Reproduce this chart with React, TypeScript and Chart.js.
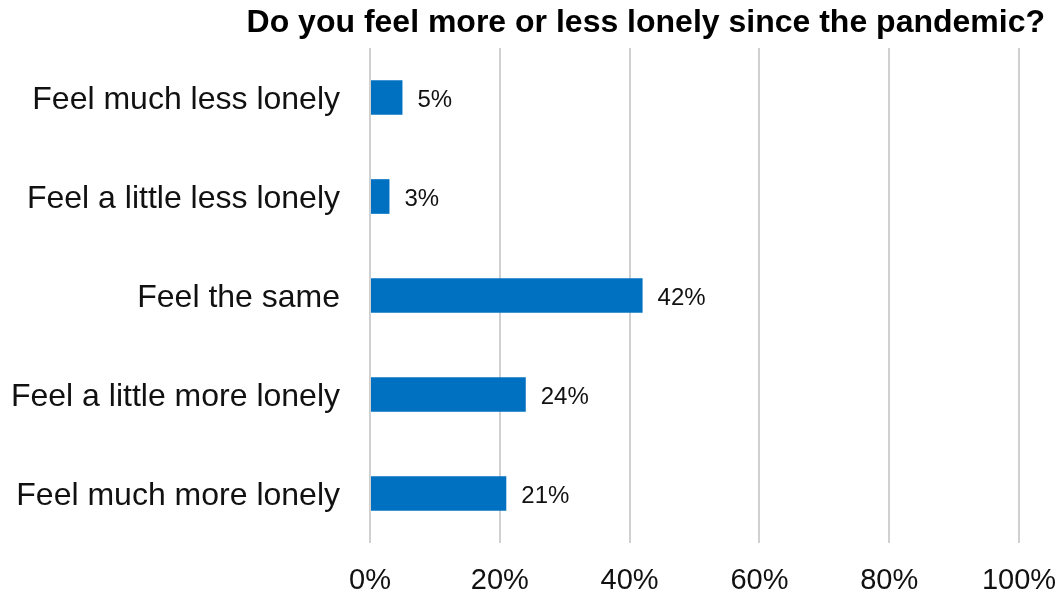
import React, { useEffect, useRef } from "react";
import { Chart, registerables } from "chart.js";

Chart.register(...registerables);

const titleText = "Do you feel more or less lonely since the pandemic?";
const categories = [
  "Feel much less lonely",
  "Feel a little less lonely",
  "Feel the same",
  "Feel a little more lonely",
  "Feel much more lonely",
];
const values = [5, 3, 42, 24, 21];
const xTicks = [0, 20, 40, 60, 80, 100];

const FONT = "'Liberation Sans', Arial, sans-serif";

export default function App() {
  const ref = useRef<HTMLCanvasElement | null>(null);
  useEffect(() => {
    if (!ref.current) return;
    const labelPlugin = {
      id: "barLabels",
      afterDatasetsDraw(chart: any) {
        const ctx = chart.ctx;
        const meta = chart.getDatasetMeta(0);
        ctx.save();
        ctx.font = `24px ${FONT}`;
        ctx.fillStyle = "#111";
        ctx.textAlign = "left";
        ctx.textBaseline = "middle";
        meta.data.forEach((bar: any, i: number) => {
          ctx.fillText(values[i] + "%", bar.x + 15, bar.y + 3);
        });
        ctx.restore();
      },
      afterDraw(chart: any) {
        const ctx = chart.ctx;
        ctx.save();
        ctx.font = `bold 32px ${FONT}`;
        ctx.fillStyle = "#000";
        ctx.textAlign = "right";
        ctx.textBaseline = "middle";
        ctx.fillText(titleText, 1045, 23);
        ctx.restore();
      },
    };
    const chart = new Chart(ref.current, {
      type: "bar",
      data: {
        labels: categories,
        datasets: [
          {
            data: values,
            backgroundColor: "#0070C0",
            borderWidth: 0,
            barPercentage: 0.35,
            categoryPercentage: 1,
          },
        ],
      },
      options: {
        indexAxis: "y",
        responsive: false,
        animation: false,
        layout: { padding: { top: 48, right: 44, left: 0, bottom: 0 } },
        plugins: {
          legend: { display: false },
          title: { display: false },
          tooltip: { enabled: false },
        },
        scales: {
          x: {
            min: 0,
            max: 100,
            afterBuildTicks: (scale: any) => {
              scale.ticks = xTicks.map((v) => ({ value: v }));
            },
            afterFit: (scale: any) => {
              scale.height = 54;
              scale.paddingLeft = 0;
              scale.paddingRight = 0;
            },
            ticks: {
              font: { family: FONT, size: 29 },
              color: "#111",
              padding: 21,
              maxRotation: 0,
              callback: (v: any) => v + "%",
            },
            grid: { color: "#d0d0d0", lineWidth: 2, drawTicks: false },
            border: { display: false },
          },
          y: {
            afterFit: (scale: any) => {
              scale.width = 370;
              scale.paddingTop = 0;
              scale.paddingBottom = 0;
            },
            ticks: {
              font: { family: FONT, size: 32 },
              color: "#111",
              padding: 30,
              labelOffset: 3,
            },
            grid: { display: false, drawTicks: false },
            border: { display: false },
          },
        },
      },
      plugins: [labelPlugin],
    });
    return () => chart.destroy();
  }, []);
  return (
    <div style={{ position: "absolute", left: 0, top: 0, width: 1063, height: 597, background: "#fff" }}>
      <canvas ref={ref} width={1063} height={597} />
    </div>
  );
}
